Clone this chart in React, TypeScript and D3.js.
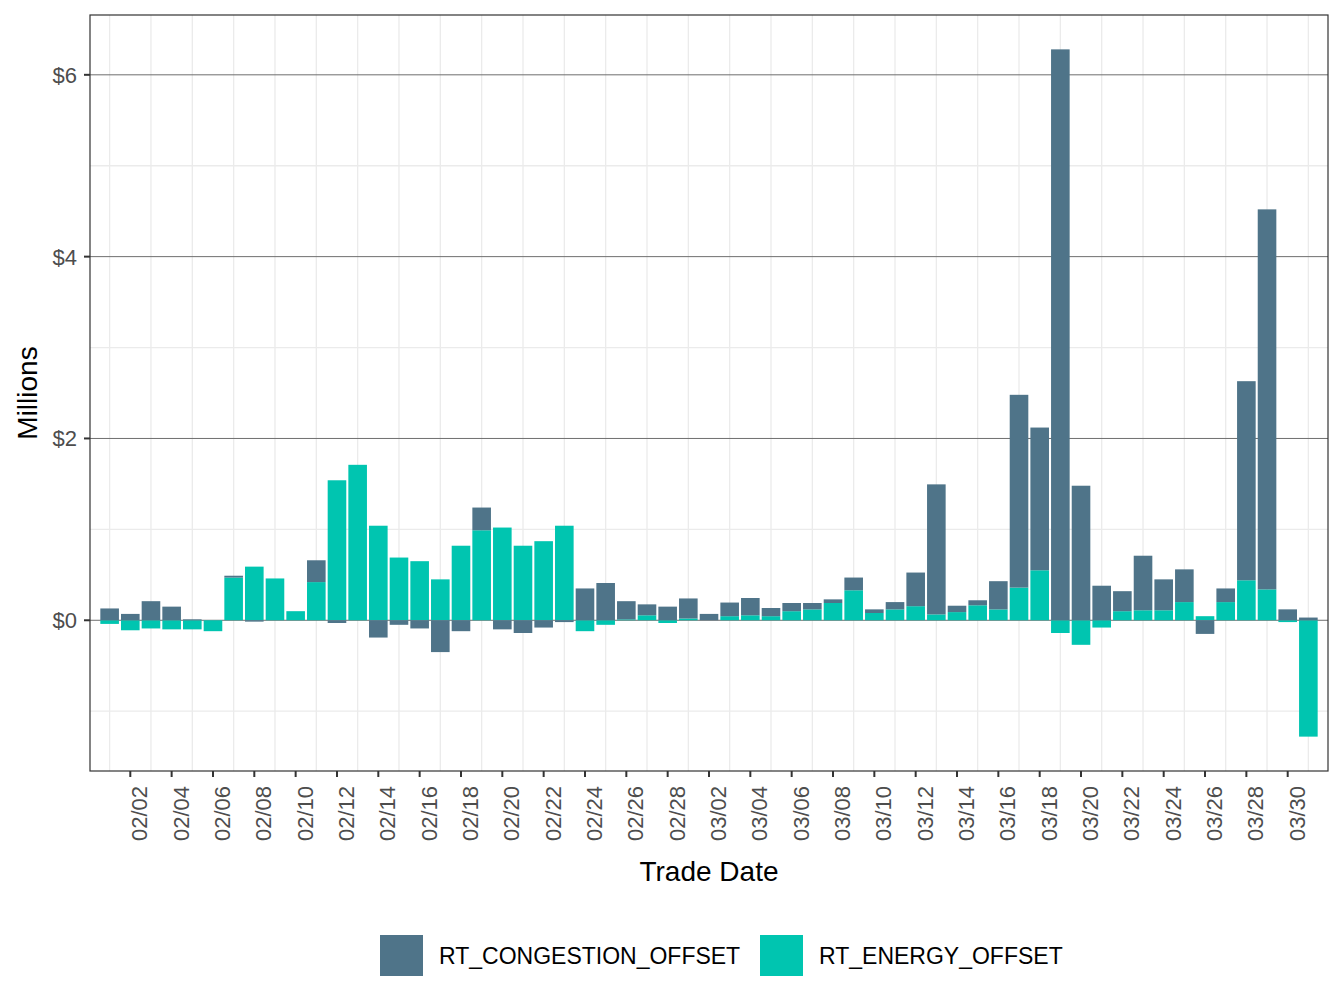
import React, { useEffect, useRef } from 'react';
import * as d3 from 'd3';

// trade dates (2023, Feb has 28 days)
const tradeDates = [
  '2023-02-01', '2023-02-02', '2023-02-03', '2023-02-04', '2023-02-05', '2023-02-06', '2023-02-07',
  '2023-02-08', '2023-02-09', '2023-02-10', '2023-02-11', '2023-02-12', '2023-02-13', '2023-02-14',
  '2023-02-15', '2023-02-16', '2023-02-17', '2023-02-18', '2023-02-19', '2023-02-20', '2023-02-21',
  '2023-02-22', '2023-02-23', '2023-02-24', '2023-02-25', '2023-02-26', '2023-02-27', '2023-02-28',
  '2023-03-01', '2023-03-02', '2023-03-03', '2023-03-04', '2023-03-05', '2023-03-06', '2023-03-07',
  '2023-03-08', '2023-03-09', '2023-03-10', '2023-03-11', '2023-03-12', '2023-03-13', '2023-03-14',
  '2023-03-15', '2023-03-16', '2023-03-17', '2023-03-18', '2023-03-19', '2023-03-20', '2023-03-21',
  '2023-03-22', '2023-03-23', '2023-03-24', '2023-03-25', '2023-03-26', '2023-03-27', '2023-03-28',
  '2023-03-29', '2023-03-30', '2023-03-31',
];

// values in millions of dollars
const congestionOffset = [
  0.13, 0.07, 0.21, 0.15, 0.01, 0.0, 0.02,
  -0.015, 0.0, 0.0, 0.24, -0.03, 0.0, -0.19,
  -0.05, -0.09, -0.35, -0.12, 0.25, -0.1, -0.14,
  -0.08, -0.02, 0.35, 0.41, 0.2, 0.12, 0.15,
  0.22, 0.07, 0.15, 0.19, 0.09, 0.09, 0.07,
  0.04, 0.14, 0.04, 0.08, 0.37, 1.43, 0.07,
  0.055, 0.31, 2.12, 1.57, 6.28, 1.48, 0.38,
  0.22, 0.6, 0.34, 0.36, -0.15, 0.15, 2.19,
  4.18, 0.12, 0.03,
];

const energyOffset = [
  -0.04, -0.11, -0.09, -0.1, -0.1, -0.12, 0.47,
  0.59, 0.46, 0.1, 0.42, 1.54, 1.71, 1.04,
  0.69, 0.65, 0.45, 0.82, 0.99, 1.02, 0.82,
  0.87, 1.04, -0.12, -0.05, 0.01, 0.055, -0.03,
  0.02, 0.0, 0.045, 0.055, 0.045, 0.1, 0.12,
  0.19, 0.33, 0.08, 0.12, 0.155, 0.065, 0.09,
  0.165, 0.12, 0.36, 0.55, -0.14, -0.27, -0.08,
  0.1, 0.11, 0.11, 0.2, 0.045, 0.2, 0.44,
  0.34, -0.02, -1.28,
];

const seriesNames = ['RT_CONGESTION_OFFSET', 'RT_ENERGY_OFFSET'];
const seriesColors = ['#4f7489', '#00c5b0'];

const majorY = [0, 2, 4, 6];
const minorY = [-1, 1, 3, 5];

const App: React.FC = () => {
  const chartRef = useRef<SVGSVGElement | null>(null);

  useEffect(() => {
    document.body.style.margin = '0';

    const width = 1344;
    const height = 1008;
    const left = 90, right = 1328, top = 15, bottom = 771;
    const font = 'Liberation Sans, Arial, Helvetica, sans-serif';

    const parse = d3.utcParse('%Y-%m-%d');
    const dates = tradeDates.map(d => parse(d) as Date);

    const rows = dates.map((date, i) => ({
      date,
      RT_CONGESTION_OFFSET: congestionOffset[i],
      RT_ENERGY_OFFSET: energyOffset[i],
    }));

    // energy sits next to zero, congestion stacked beyond it (ggplot order)
    const stack = d3.stack<any>()
      .keys(['RT_ENERGY_OFFSET', 'RT_CONGESTION_OFFSET'])
      .offset(d3.stackOffsetDiverging);
    const layers = stack(rows);

    const DAY = 86400000;
    const first = dates[0].getTime();
    const last = dates[dates.length - 1].getTime();
    const x = d3.scaleUtc()
      .domain([new Date(first - 0.95 * DAY), new Date(last + 0.95 * DAY)])
      .range([left, right]);
    const dayWidth = x(new Date(first + DAY)) - x(new Date(first));
    const barW = dayWidth * 0.9;

    const yMin = d3.min(layers, l => d3.min(l, d => d[0])) as number;
    const yMax = d3.max(layers, l => d3.max(l, d => d[1])) as number;
    const pad = (yMax - yMin) * 0.05;
    const y = d3.scaleLinear()
      .domain([yMin - pad, yMax + pad])
      .range([bottom, top]);

    const svg = d3.select(chartRef.current)
      .attr('width', width)
      .attr('height', height)
      .style('display', 'block')
      .style('font-family', font);
    svg.selectAll('*').remove();

    svg.append('rect')
      .attr('width', width)
      .attr('height', height)
      .attr('fill', '#ffffff');

    // grid
    const grid = svg.append('g');
    grid.selectAll('.minor-y')
      .data(minorY)
      .enter().append('line')
      .attr('x1', left).attr('x2', right)
      .attr('y1', d => y(d)).attr('y2', d => y(d))
      .attr('stroke', '#ebebeb')
      .attr('stroke-width', 1.3);

    const oddDays = dates.filter(d => d.getUTCDate() % 2 === 1);
    grid.selectAll('.minor-x')
      .data(oddDays)
      .enter().append('line')
      .attr('x1', d => x(d)).attr('x2', d => x(d))
      .attr('y1', top).attr('y2', bottom)
      .attr('stroke', '#ebebeb')
      .attr('stroke-width', 1.3);

    grid.selectAll('.major-y')
      .data(majorY)
      .enter().append('line')
      .attr('x1', left).attr('x2', right)
      .attr('y1', d => y(d)).attr('y2', d => y(d))
      .attr('stroke', '#6e6e6e')
      .attr('stroke-width', 1);

    // bars
    const colorOf = d3.scaleOrdinal<string, string>().domain(seriesNames).range(seriesColors);
    svg.append('g')
      .selectAll('g')
      .data(layers)
      .enter().append('g')
      .attr('fill', d => colorOf(d.key))
      .selectAll('rect')
      .data(d => d)
      .enter().append('rect')
      .attr('x', d => x(d.data.date) - barW / 2)
      .attr('width', barW)
      .attr('y', d => y(Math.max(d[0], d[1])))
      .attr('height', d => Math.abs(y(d[0]) - y(d[1])));

    // panel border
    svg.append('rect')
      .attr('x', left).attr('y', top)
      .attr('width', right - left).attr('height', bottom - top)
      .attr('fill', 'none')
      .attr('stroke', '#333333')
      .attr('stroke-width', 1.2);

    // y axis
    const yAxis = svg.append('g');
    yAxis.selectAll('line')
      .data(majorY)
      .enter().append('line')
      .attr('x1', left - 6).attr('x2', left)
      .attr('y1', d => y(d)).attr('y2', d => y(d))
      .attr('stroke', '#333333')
      .attr('stroke-width', 2);
    yAxis.selectAll('text')
      .data(majorY)
      .enter().append('text')
      .attr('x', left - 13)
      .attr('y', d => y(d))
      .attr('dy', '0.36em')
      .attr('text-anchor', 'end')
      .attr('fill', '#4d4d4d')
      .attr('font-size', 22)
      .text(d => `$${d}`);

    // x axis
    const evenDays = dates.filter(d => d.getUTCDate() % 2 === 0);
    const fmt = d3.utcFormat('%m/%d');
    const xAxis = svg.append('g');
    xAxis.selectAll('line')
      .data(evenDays)
      .enter().append('line')
      .attr('x1', d => x(d)).attr('x2', d => x(d))
      .attr('y1', bottom).attr('y2', bottom + 6)
      .attr('stroke', '#333333')
      .attr('stroke-width', 2);
    xAxis.selectAll('text')
      .data(evenDays)
      .enter().append('text')
      .attr('transform', d => `translate(${x(d) + 17},${bottom + 15}) rotate(-90)`)
      .attr('text-anchor', 'end')
      .attr('fill', '#4d4d4d')
      .attr('font-size', 22)
      .text(d => fmt(d));

    // titles
    svg.append('text')
      .attr('x', (left + right) / 2)
      .attr('y', 881)
      .attr('text-anchor', 'middle')
      .attr('font-size', 28)
      .attr('fill', '#000000')
      .text('Trade Date');

    svg.append('text')
      .attr('transform', `translate(${37},${(top + bottom) / 2}) rotate(-90)`)
      .attr('text-anchor', 'middle')
      .attr('font-size', 28)
      .attr('fill', '#000000')
      .text('Millions');

    // legend
    const legendX = [380, 760];
    const legend = svg.append('g');
    const items = legend.selectAll('g')
      .data(seriesNames)
      .enter().append('g')
      .attr('transform', (_d, i) => `translate(${legendX[i]},935)`);
    items.append('rect')
      .attr('width', 43)
      .attr('height', 41)
      .attr('fill', d => colorOf(d));
    items.append('text')
      .attr('x', 59)
      .attr('y', 21)
      .attr('dy', '0.36em')
      .attr('font-size', 23)
      .attr('fill', '#000000')
      .text(d => d);
  }, []);

  return <svg ref={chartRef}></svg>;
};

export default App;
